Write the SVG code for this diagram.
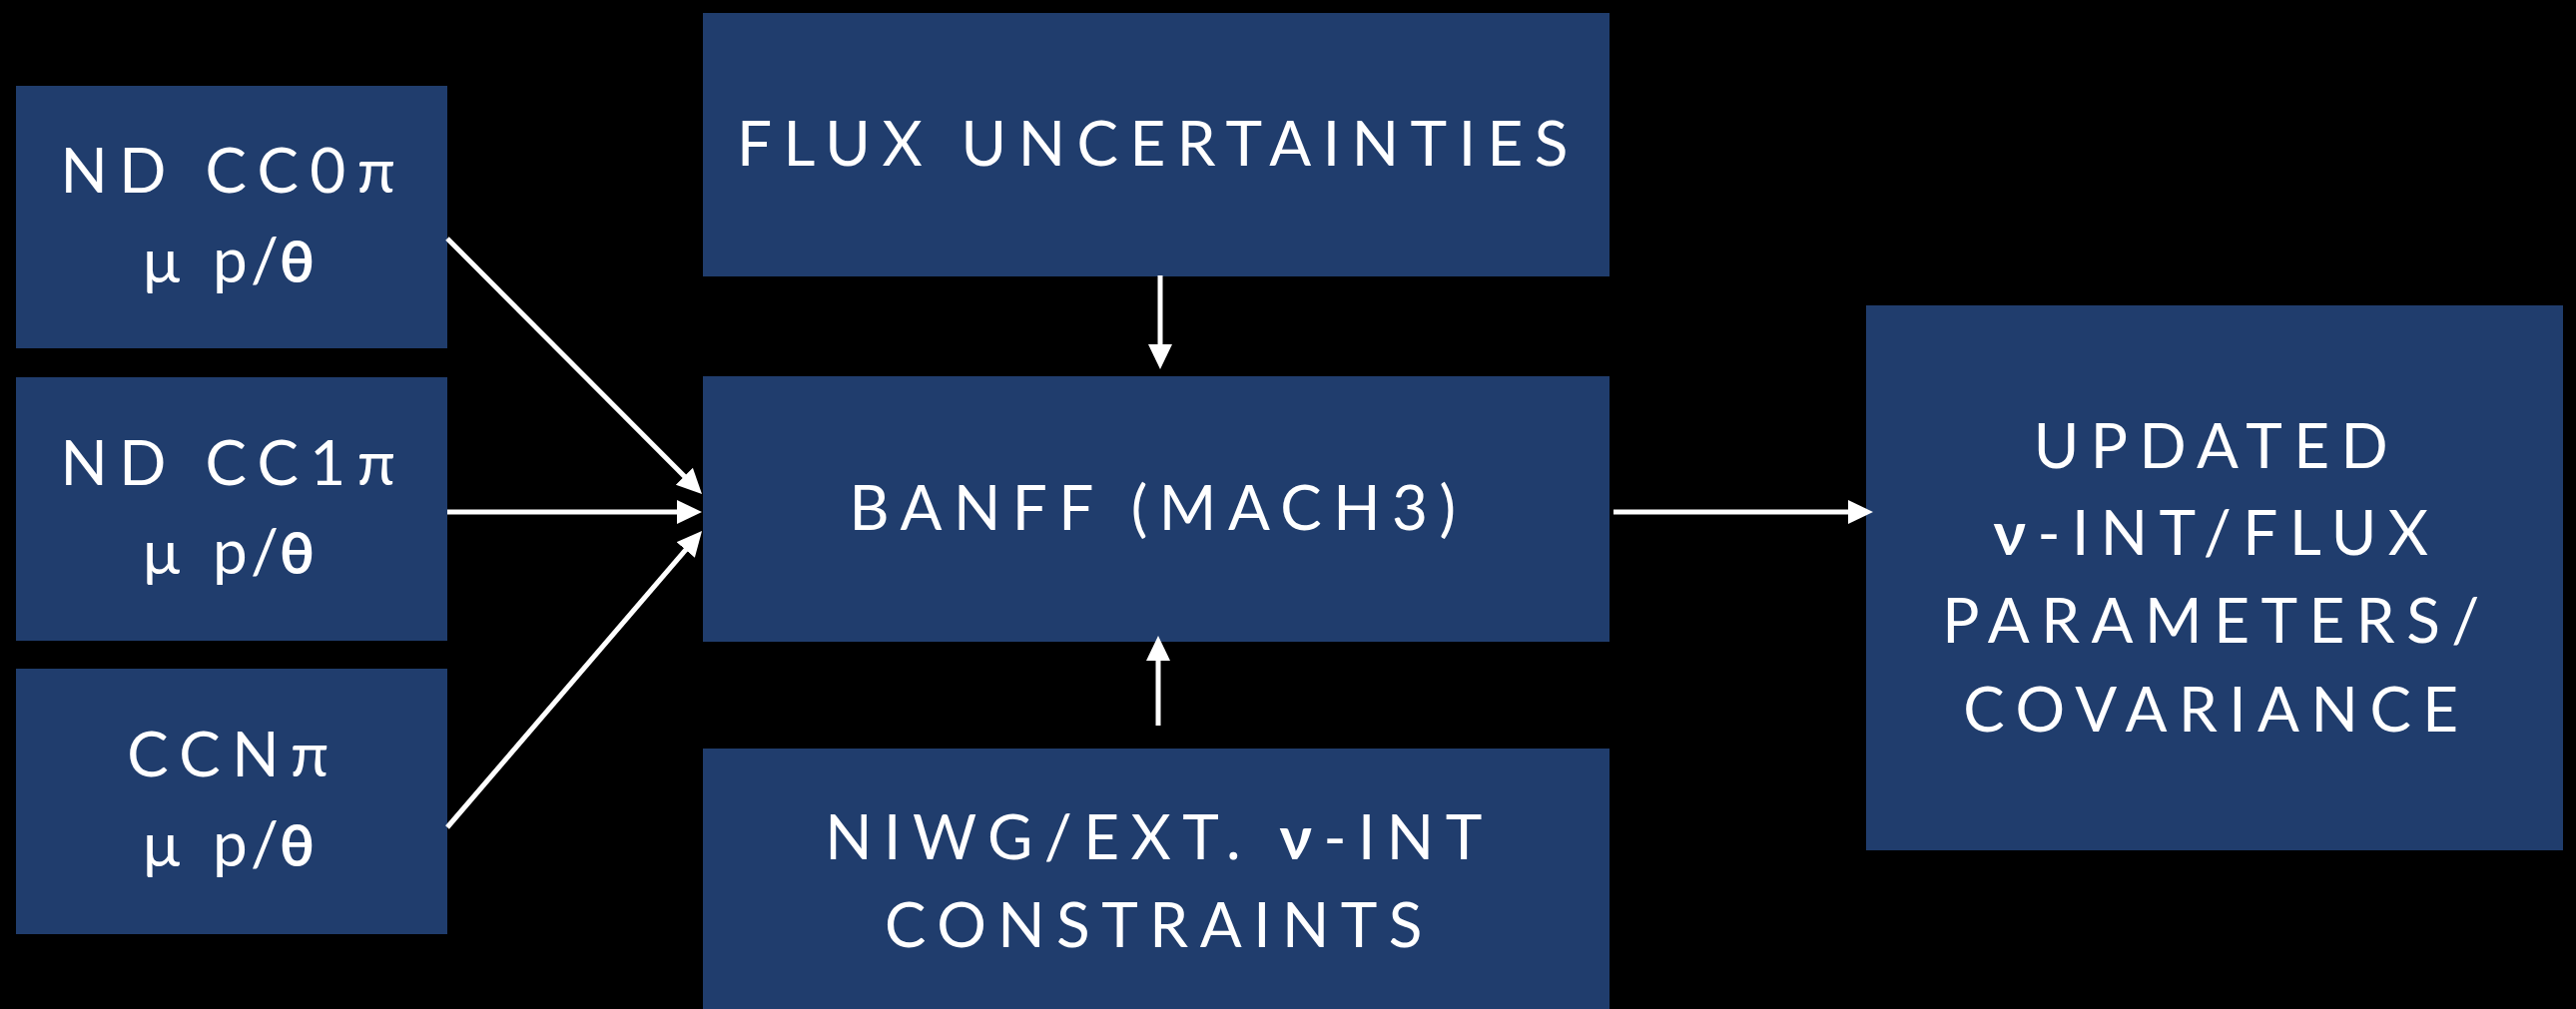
<svg xmlns="http://www.w3.org/2000/svg" width="2580" height="1011" viewBox="0 0 2580 1011">
<defs>
<style>
.box{fill:#203D6D;}
.t{font-family:Lato,"Open Sans","Liberation Sans",sans-serif;font-size:62px;fill:#FFFFFF;text-anchor:middle;letter-spacing:11.5px;}
.s{font-family:Lato,"Open Sans","Liberation Sans",sans-serif;font-size:62px;fill:#FFFFFF;text-anchor:start;}
.b{font-weight:bold;}
.th{font-weight:bold;font-size:58px;}
.c{stroke:#FFFFFF;stroke-width:5;fill:none;}
</style>
<marker id="ah" markerUnits="userSpaceOnUse" markerWidth="30" markerHeight="30" refX="5" refY="12" orient="auto">
<path d="M0,0 L25,12 L0,24 Z" fill="#FFFFFF"/>
</marker>
</defs>
<rect x="0" y="0" width="2580" height="1011" fill="#000000"/>
<g id="nd-cc0pi">
<rect class="box" x="16" y="86" width="432" height="263"/>
<text class="t" x="234" y="193">ND CC0π</text>
<text class="s" x="143 213 251 280" y="283">μp/<tspan class="th">θ</tspan></text>
</g>
<g id="nd-cc1pi">
<rect class="box" x="16" y="378" width="432" height="264"/>
<text class="t" x="234" y="486">ND CC1π</text>
<text class="s" x="143 213 251 280" y="575">μp/<tspan class="th">θ</tspan></text>
</g>
<g id="ccnpi">
<rect class="box" x="16" y="670" width="432" height="266"/>
<text class="t" x="234" y="778">CCNπ</text>
<text class="s" x="143 213 251 280" y="868">μp/<tspan class="th">θ</tspan></text>
</g>
<g id="flux">
<rect class="box" x="704" y="13" width="908" height="264"/>
<text class="t" x="1160" y="166">FLUX UNCERTAINTIES</text>
</g>
<g id="banff">
<rect class="box" x="704" y="377" width="908" height="266"/>
<text class="t" x="1160" y="531">BANFF (MACH3)</text>
</g>
<g id="niwg">
<rect class="box" x="704" y="750" width="908" height="261"/>
<text class="t" x="1161" y="861">NIWG/EXT. <tspan class="b">ν</tspan>-INT</text>
<text class="t" x="1161" y="949">CONSTRAINTS</text>
</g>
<g id="updated">
<rect class="box" x="1869" y="306" width="698" height="546"/>
<text class="t" x="2220" y="469">UPDATED</text>
<text class="t" x="2220" y="556"><tspan class="b">ν</tspan>-INT/FLUX</text>
<text class="t" x="2220" y="644">PARAMETERS/</text>
<text class="t" x="2220" y="733">COVARIANCE</text>
</g>
<g id="connectors">
<line class="c" x1="448" y1="239" x2="688.9" y2="480.8" marker-end="url(#ah)"/>
<line class="c" x1="448" y1="513" x2="683" y2="513" marker-end="url(#ah)"/>
<line class="c" x1="448" y1="829" x2="690" y2="547.2" marker-end="url(#ah)"/>
<line class="c" x1="1162" y1="276" x2="1162" y2="350" marker-end="url(#ah)"/>
<line class="c" x1="1160" y1="727" x2="1160" y2="657" marker-end="url(#ah)"/>
<line class="c" x1="1616" y1="513" x2="1856" y2="513" marker-end="url(#ah)"/>
</g>
</svg>
